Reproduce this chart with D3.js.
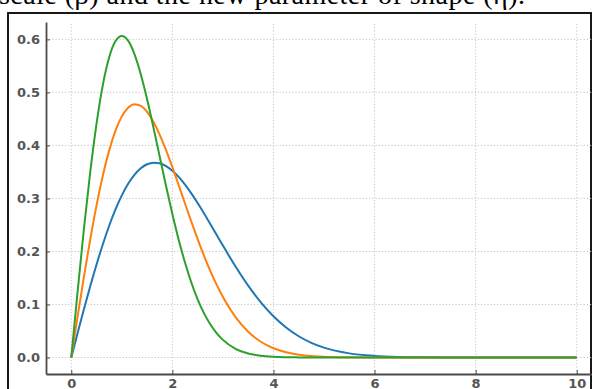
<!DOCTYPE html>
<html>
<head>
<meta charset="utf-8">
<script src="https://cdn.jsdelivr.net/npm/d3@7"></script>
<style>
  html, body { margin: 0; padding: 0; background: #fff; }
  svg { display: block; }
</style>
</head>
<body>
<svg id="chart" width="592" height="389"></svg>
<script>
// ---- data ----
const xValues = [0, 0.125, 0.25, 0.375, 0.5, 0.625, 0.75, 0.875, 1.0, 1.125, 1.25, 1.375, 1.5, 1.625, 1.75, 1.875, 2.0, 2.125, 2.25, 2.375, 2.5, 2.625, 2.75, 2.875, 3.0, 3.25, 3.5, 3.75, 4.0, 4.25, 4.5, 4.75, 5.0, 5.5, 6.0, 6.5, 7.0, 8.0, 9.0, 10.0];
const blueValues = [0, 0.0458, 0.0908, 0.1342, 0.1754, 0.2137, 0.2485, 0.2792, 0.3057, 0.3275, 0.3446, 0.3569, 0.3645, 0.3675, 0.3663, 0.3611, 0.3524, 0.3406, 0.3262, 0.3096, 0.2914, 0.2720, 0.2519, 0.2314, 0.2110, 0.1716, 0.1355, 0.1041, 0.0778, 0.0566, 0.0401, 0.0277, 0.0186, 0.0078, 0.0030, 0.0010, 0.0003, 0, 0, 0];
const orangeValues = [0, 0.0771, 0.1520, 0.2226, 0.2869, 0.3433, 0.3906, 0.4279, 0.4547, 0.4711, 0.4775, 0.4744, 0.4630, 0.4444, 0.4199, 0.3909, 0.3589, 0.3250, 0.2904, 0.2562, 0.2234, 0.1922, 0.1635, 0.1374, 0.1142, 0.0763, 0.0487, 0.0297, 0.0174, 0.0098, 0.0052, 0.0027, 0.0013, 0.0003, 0, 0, 0, 0, 0, 0];
const greenValues = [0, 0.1240, 0.2423, 0.3495, 0.4412, 0.5141, 0.5661, 0.5967, 0.6065, 0.5975, 0.5723, 0.5343, 0.4870, 0.4340, 0.3785, 0.3233, 0.2707, 0.2222, 0.1790, 0.1415, 0.1098, 0.0837, 0.0627, 0.0461, 0.0333, 0.0165, 0.0077, 0.0033, 0.0013, 0.0005, 0.0002, 0, 0, 0, 0, 0, 0, 0, 0, 0];
const xTicks = [0, 2, 4, 6, 8, 10];
const yTicks = [0.0, 0.1, 0.2, 0.3, 0.4, 0.5, 0.6];
const captionText = "scale (\u03B2) and the new parameter of shape (\u03B7).";

const seriesList = [
  { values: blueValues, color: "#1f77b4" },
  { values: orangeValues, color: "#ff7f0e" },
  { values: greenValues, color: "#2ca02c" }
];

const svg = d3.select("#chart");

// caption (cut off at the top of the picture)
svg.append("text")
  .attr("x", -1).attr("y", 4)
  .attr("font-family", "'Liberation Serif', serif")
  .attr("font-size", 28)
  .attr("textLength", 526)
  .attr("fill", "#000")
  .text(captionText);

// outer frame
svg.append("rect")
  .attr("x", 8).attr("y", 13)
  .attr("width", 583).attr("height", 420)
  .attr("fill", "none")
  .attr("stroke", "#000")
  .attr("stroke-width", 1.8);

const pLeft = 46, pRight = 602, pTop = 22, pBottom = 374;
const x = d3.scaleLinear().domain([-0.5, 10.5]).range([pLeft, pRight]);
const y = d3.scaleLinear().domain([-0.0311, 0.6327]).range([pBottom, pTop]);

const g = svg.append("g");

// grid
g.selectAll("line.vgrid").data(xTicks).join("line")
  .attr("class", "vgrid")
  .attr("x1", d => x(d)).attr("x2", d => x(d))
  .attr("y1", pBottom).attr("y2", pTop)
  .attr("stroke", "#bdbdbd").attr("stroke-width", 0.9)
  .attr("stroke-dasharray", "1.2,2");
g.selectAll("line.hgrid").data(yTicks).join("line")
  .attr("class", "hgrid")
  .attr("x1", pLeft).attr("x2", pRight)
  .attr("y1", d => y(d)).attr("y2", d => y(d))
  .attr("stroke", "#bdbdbd").attr("stroke-width", 0.9)
  .attr("stroke-dasharray", "1.2,2");

// lines
const line = d3.line()
  .x((d, i) => x(xValues[i]))
  .y(d => y(d))
  .curve(d3.curveMonotoneX);

seriesList.forEach(s => {
  g.append("path")
    .attr("d", line(s.values))
    .attr("fill", "none")
    .attr("stroke", s.color)
    .attr("stroke-width", 2);
});

// axes (ticks inward)
const xAxis = d3.axisBottom(x).tickValues(xTicks).tickFormat(d3.format("d"))
  .tickSizeInner(-4).tickSizeOuter(0).tickPadding(9);
const yAxis = d3.axisLeft(y).tickValues(yTicks).tickFormat(d3.format(".1f"))
  .tickSizeInner(-4).tickSizeOuter(0).tickPadding(6);

const gx = svg.append("g").attr("transform", `translate(0,${pBottom})`).call(xAxis);
const gy = svg.append("g").attr("transform", `translate(${pLeft},0)`).call(yAxis);

[gx, gy].forEach(a => {
  a.select(".domain").attr("stroke", "#4a4a4a").attr("stroke-width", 1.8);
  a.selectAll(".tick line").attr("stroke", "#4a4a4a").attr("stroke-width", 1);
  a.selectAll(".tick text")
    .attr("font-family", "'DejaVu Sans', sans-serif")
    .attr("font-size", 13)
    .attr("font-weight", "bold")
    .attr("fill", "#555");
});
gx.selectAll(".tick text").attr("y", 13.5).attr("dy", 0);
</script>
</body>
</html>
